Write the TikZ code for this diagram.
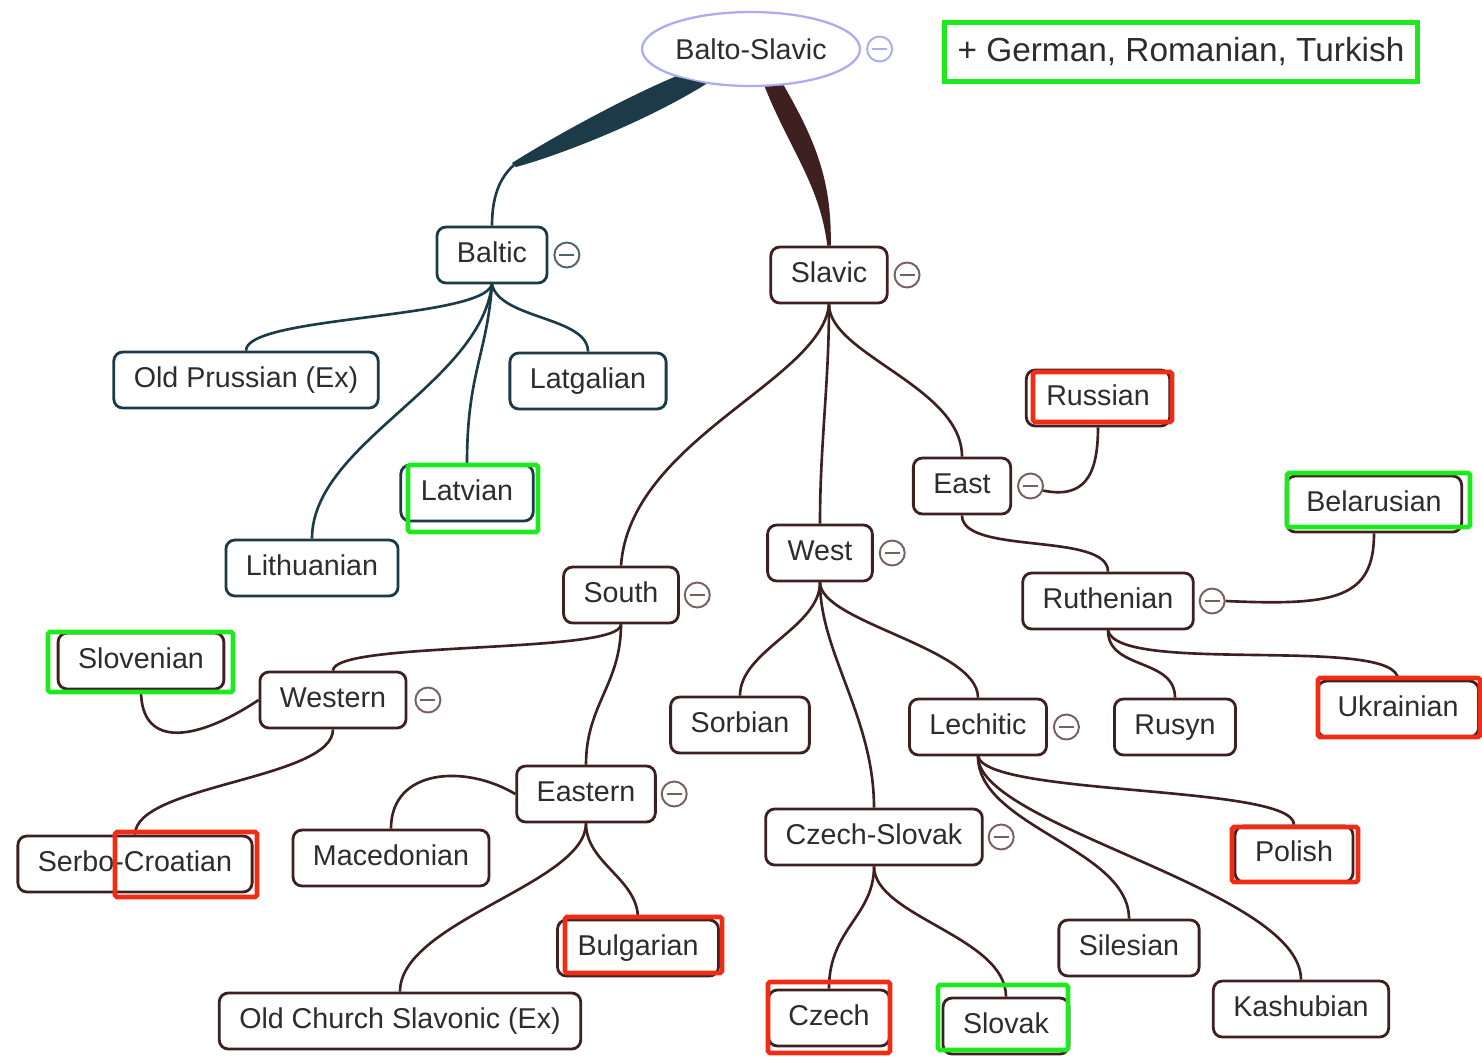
\documentclass[tikz,border=0pt]{standalone}
\usepackage{fontspec}
\setmainfont{Liberation Sans}
\usetikzlibrary{positioning,shapes.geometric}
\definecolor{balt}{RGB}{28,58,72}
\definecolor{slav}{RGB}{62,32,32}
\definecolor{txt}{RGB}{45,45,45}
\definecolor{rootc}{RGB}{172,172,240}
\definecolor{baltf}{RGB}{80,100,110}
\definecolor{slavf}{RGB}{120,95,95}
\definecolor{mmgreen}{RGB}{30,232,30}
\definecolor{mmred}{RGB}{240,45,20}

\begin{document}
\begin{tikzpicture}[x=0.02cm,y=-0.02cm]
    \tikzset{
      lang/.style={draw=slav, line width=1.6pt, rounded corners=0.18cm, fill=white, text=txt,
        font=\fontsize{16.3}{19}\selectfont, inner xsep=0.4cm, minimum height=1.12cm,
        text height=11.7pt, text depth=3.4pt},
      blang/.style={lang, draw=balt},
      fold/.style={circle, draw=#1, line width=1.1pt, minimum size=0.5cm, inner sep=0pt, fill=white,
        path picture={\draw[#1, line width=1.1pt] ([xshift=-0.15cm]path picture bounding box.center)
          -- ([xshift=0.15cm]path picture bounding box.center);}},
      link/.style={draw=slav, line width=1.5pt},
      blink/.style={link, draw=balt},
      hlgreen/.style={draw=mmgreen, line width=2.6pt, rounded corners=1pt},
      hlred/.style={draw=mmred, line width=2.6pt, rounded corners=1pt},
    }
    \fill[white] (0,0) rectangle (1482,1056);
    \useasboundingbox (0,0) rectangle (1482,1056);

    % Root and note.
    \path (751,49) node[ellipse, draw=rootc, line width=1.3pt, minimum width=4.36cm, minimum height=1.48cm,
      inner sep=0pt, text=txt, font=\fontsize{16.3}{19}\selectfont] (root) {Balto-Slavic};
    \node[fold=rootc, right=0.1cm of root] (root-f) {};
    \path (1181,52) node[draw=mmgreen, line width=2.6pt, minimum width=9.46cm, minimum height=1.18cm,
      text=txt, font=\fontsize{19}{22}\selectfont] (extra) {+ German, Romanian, Turkish};

    % Baltic.
    \path (492,255) node[blang] (baltic)  {Baltic};
    \node[fold=baltf, right=0.1cm of baltic] (baltic-f) {};
    \path (246,380) node[blang] (oldpr)   {Old Prussian (Ex)};
    \path (588,381) node[blang] (latgal)  {Latgalian};
    \path (467,493) node[blang] (latvian) {Latvian};
    \path (312,568) node[blang] (lithuan) {Lithuanian};

    % Slavic, top levels.
    \path (829,275) node[lang] (slavic) {Slavic};
    \node[fold=slavf, right=0.1cm of slavic] (slavic-f) {};
    \path (621,595) node[lang] (south) {South};
    \node[fold=slavf, right=0.08cm of south] (south-f) {};
    \path (820,553) node[lang] (west) {West};
    \node[fold=slavf, right=0.1cm of west] (west-f) {};
    \path (962,486) node[lang] (east) {East};
    \node[fold=slavf, right=0.1cm of east] (east-f) {};

    % East.
    \path (1098,398)  node[lang] (russian) {Russian};
    \path (1374,504)  node[lang] (belarus) {Belarusian};
    \path (1108,601)  node[lang] (ruthen)  {Ruthenian};
    \node[fold=slavf, right=0.08cm of ruthen] (ruthen-f) {};
    \path (1398,709)  node[lang] (ukrain)  {Ukrainian};
    \path (1175,727)  node[lang] (rusyn)   {Rusyn};

    % West.
    \path (740,725)  node[lang] (sorbian)  {Sorbian};
    \path (978,727)  node[lang] (lechit)   {Lechitic};
    \node[fold=slavf, right=0.1cm of lechit] (lechit-f) {};
    \path (874,837)  node[lang] (czsl)     {Czech-Slovak};
    \node[fold=slavf, right=0.08cm of czsl] (czsl-f) {};
    \path (829,1018) node[lang] (czech)    {Czech};
    \path (1006,1026) node[lang] (slovak)  {Slovak};
    \path (1129,948) node[lang] (silesian) {Silesian};
    \path (1301,1009) node[lang] (kashub)  {Kashubian};
    \path (1294,854) node[lang] (polish)   {Polish};

    % South.
    \path (333,700)  node[lang] (western)  {Western};
    \node[fold=slavf, right=0.14cm of western] (western-f) {};
    \path (141,661)  node[lang] (sloven)   {Slovenian};
    \path (135,864)  node[lang] (serbocr)  {Serbo-Croatian};
    \path (586,794)  node[lang] (eastern)  {Eastern};
    \node[fold=slavf, right=0.08cm of eastern] (eastern-f) {};
    \path (391,858)  node[lang] (macedon)  {Macedonian};
    \path (638,948)  node[lang] (bulgar)   {Bulgarian};
    \path (400,1021) node[lang] (ocs)      {Old Church Slavonic (Ex)};

    % Tapered main branches.
    \coordinate (bk) at (514,165);
    \fill[balt] (root.200) .. controls (620,100) and (548,140) .. ([shift={(-2,-2)}]bk)
      -- ([shift={(2,2)}]bk) .. controls (560,155) and (645,122) .. (root.218) -- cycle;
    \draw[blink] (bk) .. controls (499,178) and (492,198) .. (baltic.north);
    \fill[slav] (root.290) .. controls (790,150) and (820,185) .. ([xshift=-1pt]slavic.north)
      -- ([xshift=1pt]slavic.north) .. controls (832,180) and (815,140) .. (root.312) -- cycle;

    % Baltic links.
    \draw[blink] (baltic.south) .. controls +(-10,35) and +(0,-35) .. (oldpr.north);
    \draw[blink] (baltic.south) .. controls +(8,35) and +(0,-35) .. (latgal.north);
    \draw[blink] (baltic.south) .. controls +(-5,70) and +(0,-90) .. (latvian.north);
    \draw[blink] (baltic.south) .. controls +(-12,100) and +(0,-95) .. (lithuan.north);

    % Slavic links.
    \draw[link] (slavic.south) .. controls +(-7,76) and +(9,-126) .. (south.north);
    \draw[link] (slavic.south) .. controls +(0,80) and +(0,-80) .. (west.north);
    \draw[link] (slavic.south) .. controls +(0,50) and +(0,-70) .. (east.north);
    \draw[link] (east-f.-20) .. controls +(40,8) and +(0,50) .. (russian.south);
    \draw[link] (east.south) .. controls +(0,40) and +(0,-40) .. (ruthen.north);
    \draw[link] (ruthen-f.east) .. controls +(110,5) and +(0,65) .. (belarus.south);
    \draw[link] (ruthen.south) .. controls +(0,40) and +(0,-40) .. (rusyn.north);
    \draw[link] (ruthen.south) .. controls +(10,45) and +(0,-45) .. (ukrain.north);
    \draw[link] (west.south) .. controls +(0,45) and +(0,-45) .. (sorbian.north);
    \draw[link] (west.south) .. controls +(0,40) and +(0,-50) .. (lechit.north);
    \draw[link] (west.south) .. controls +(0,70) and +(0,-90) .. (czsl.north);
    \draw[link] (lechit.south) .. controls +(10,40) and +(0,-40) .. (polish.north);
    \draw[link] (lechit.south) .. controls +(0,70) and +(0,-70) .. (silesian.north);
    \draw[link] (lechit.south) .. controls +(0,70) and +(0,-90) .. (kashub.north);
    \draw[link] (czsl.south) .. controls +(0,50) and +(0,-60) .. (czech.north);
    \draw[link] (czsl.south) .. controls +(0,50) and +(0,-60) .. (slovak.north);
    \draw[link] (south.south) .. controls +(0,30) and +(0,-30) .. (western.north);
    \draw[link] (south.south) .. controls +(0,60) and +(0,-60) .. (eastern.north);
    \draw[link] (western.west) .. controls +(-60,40) and +(0,60) .. (sloven.south);
    \draw[link] (western.south) .. controls +(0,50) and +(0,-50) .. (serbocr.north);
    \draw[link] (eastern.west) .. controls +(-50,-30) and +(0,-60) .. (macedon.north);
    \draw[link] (eastern.south) .. controls +(0,40) and +(0,-40) .. (bulgar.north);
    \draw[link] (eastern.south) .. controls +(0,60) and +(0,-70) .. (ocs.north);

    % Marks.
    \draw[hlgreen] (408,465) rectangle (538,532);
    \draw[hlred]   (1033,372) rectangle (1172,422);
    \draw[hlgreen] (1287,473) rectangle (1470,527);
    \draw[hlred]   (1318,678) rectangle (1480,737);
    \draw[hlred]   (768,982) rectangle (890,1053);
    \draw[hlgreen] (938,985) rectangle (1068,1050);
    \draw[hlred]   (565,917) rectangle (722,973);
    \draw[hlred]   (1232,827) rectangle (1358,882);
    \draw[hlgreen] (48,632) rectangle (233,692);
    \draw[hlred]   (115,832) rectangle (257,897);
\end{tikzpicture}
\end{document}
